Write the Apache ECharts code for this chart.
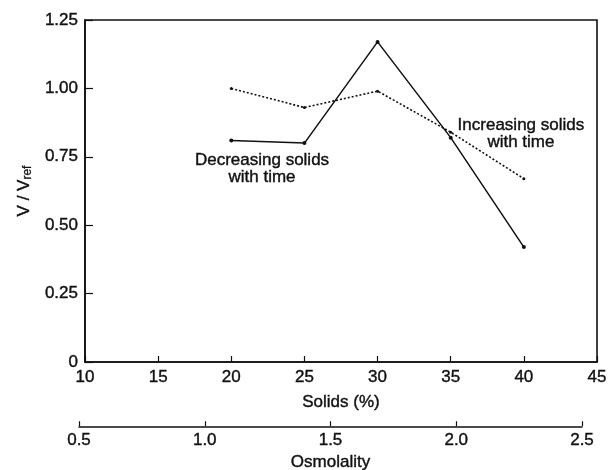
<!DOCTYPE html>
<html>
<head>
<meta charset="utf-8">
<script src="https://cdn.jsdelivr.net/npm/echarts@6/dist/echarts.min.js"></script>
<style>
  html, body { margin: 0; padding: 0; background: #fff; }
  #chart { width: 611px; height: 470px; }
</style>
</head>
<body>
<div id="chart"></div>
<script>
// Solids content (%) at which velocity ratio was measured
const solids = [20, 25, 30, 35, 40];
// V / Vref when solids decrease with time (solid line)
const decreasing = [0.81, 0.80, 1.17, 0.82, 0.42];
// V / Vref when solids increase with time (dotted line)
const increasing = [1.00, 0.93, 0.99, 0.84, 0.67];

// Axis ranges
const solidsMin = 10, solidsMax = 45, solidsStep = 5;
const ratioMin = 0, ratioMax = 1.25, ratioStep = 0.25;
const osmoMin = 0.5, osmoMax = 2.5, osmoStep = 0.5;

// Curve captions, anchored in data coordinates [solids, ratio]
const decreasingNote = { text: 'Decreasing solids\nwith time', at: [22.1, 0.705] };
const increasingNote = { text: 'Increasing solids\nwith time', at: [39.8, 0.835] };

const FONT = 'Liberation Sans, Arial, sans-serif';
const INK = '#111';

const chart = echarts.init(document.getElementById('chart'), null, { renderer: 'canvas' });

// medium-weight look: regular face with a hairline outline in the same ink
const labelStyle = { color: INK, fontFamily: FONT, fontSize: 17, textBorderColor: INK, textBorderWidth: 0.4 };

chart.setOption({
  animation: false,
  backgroundColor: '#fff',
  grid: [
    { left: 85, top: 20, right: 14, bottom: 108, show: true, borderColor: INK, borderWidth: 1.6, backgroundColor: 'transparent' },
    { left: 79, right: 29, top: 426, height: 1 }
  ],
  xAxis: [
    {
      type: 'value', gridIndex: 0,
      min: solidsMin, max: solidsMax, interval: solidsStep,
      name: 'Solids (%)', nameLocation: 'middle', nameGap: 32,
      nameTextStyle: labelStyle,
      axisLine: { lineStyle: { color: INK, width: 1.6 } },
      axisTick: { inside: true, length: 6, lineStyle: { color: INK, width: 1.2 } },
      axisLabel: Object.assign({ margin: 7 }, labelStyle),
      splitLine: { show: false }
    },
    {
      type: 'value', gridIndex: 1,
      min: osmoMin, max: osmoMax, interval: osmoStep,
      name: 'Osmolality', nameLocation: 'middle', nameGap: 28,
      nameTextStyle: labelStyle,
      axisLine: { lineStyle: { color: INK, width: 1.6 } },
      axisTick: { inside: true, length: 5, lineStyle: { color: INK, width: 1.2 } },
      axisLabel: Object.assign({ margin: 6, formatter: v => v.toFixed(1) }, labelStyle),
      splitLine: { show: false }
    }
  ],
  yAxis: [
    {
      type: 'value', gridIndex: 0,
      min: ratioMin, max: ratioMax, interval: ratioStep,
      name: '{v|V / V}{sub|ref}', nameLocation: 'middle', nameGap: 49, nameRotate: 90,
      nameTextStyle: {
        rich: {
          v: { color: INK, fontFamily: FONT, fontSize: 17, textBorderColor: INK, textBorderWidth: 0.4 },
          sub: { color: INK, fontFamily: FONT, fontSize: 12, textBorderColor: INK, textBorderWidth: 0.3, verticalAlign: 'bottom', padding: [7, 0, 0, 0] }
        }
      },
      axisLine: { lineStyle: { color: INK, width: 1.6 } },
      axisTick: { inside: true, length: 8, lineStyle: { color: INK, width: 1.2 } },
      axisLabel: Object.assign({ margin: 7, formatter: v => (v === 0 ? '0' : v.toFixed(2)) }, labelStyle),
      splitLine: { show: false }
    },
    {
      type: 'value', gridIndex: 1, min: 0, max: 1, show: false
    }
  ],
  series: [
    {
      name: 'Decreasing solids with time',
      type: 'line', xAxisIndex: 0, yAxisIndex: 0,
      data: solids.map((s, i) => [s, decreasing[i]]),
      symbol: 'circle', symbolSize: 4,
      itemStyle: { color: INK },
      lineStyle: { color: INK, width: 1.5 }
    },
    {
      name: 'Increasing solids with time',
      type: 'line', xAxisIndex: 0, yAxisIndex: 0,
      data: solids.map((s, i) => [s, increasing[i]]),
      symbol: 'circle', symbolSize: 3,
      itemStyle: { color: INK },
      lineStyle: { color: INK, width: 1.6, type: [2, 2] }
    },
    {
      name: 'captions',
      type: 'scatter', xAxisIndex: 0, yAxisIndex: 0,
      symbolSize: 0, silent: true,
      itemStyle: { color: INK, opacity: 1 },
      data: [decreasingNote, increasingNote].map(n => ({ value: n.at, caption: n.text })),
      label: {
        show: true, position: 'inside',
        formatter: p => p.data.caption,
        color: INK, opacity: 1, fontFamily: FONT, fontSize: 17, lineHeight: 17, align: 'center',
        textBorderColor: INK, textBorderWidth: 0.4
      }
    }
  ]
});
</script>
</body>
</html>
